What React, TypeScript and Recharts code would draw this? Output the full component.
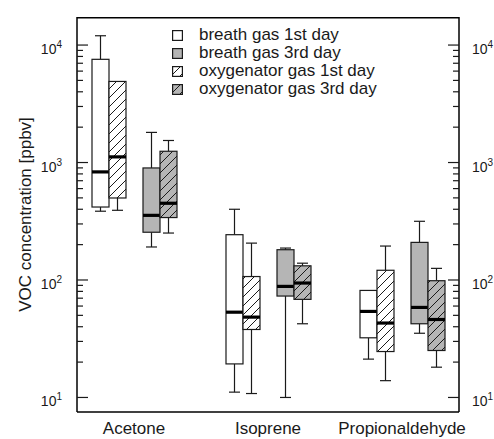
import React from 'react';
import { ComposedChart, Bar, XAxis, YAxis, Legend } from 'recharts';

const categories = ['Acetone', 'Isoprene', 'Propionaldehyde'];

// each entry: [min, q1, median, q3, max]  (ppbv)
const breath1st = [
  [385, 418, 832, 7560, 12000],
  [11.1, 19.3, 53.2, 243, 400],
  [21.2, 32.2, 54, 81.5, 81.5],
];
const breath3rd = [
  [191, 255, 355, 899, 1805],
  [10, 73, 88.2, 181, 187],
  [35.2, 42.4, 58.4, 209, 316],
];
const oxy1st = [
  [392, 499, 1117, 4900, 4900],
  [10.8, 37.9, 48.3, 107, 206],
  [13.9, 24.6, 43, 121, 194.5],
];
const oxy3rd = [
  [251, 340, 450, 1247, 1540],
  [42.4, 68.4, 94.2, 132, 139],
  [18.1, 25.1, 46.1, 98.6, 125.6],
];

const legendNames = ['breath gas 1st day', 'breath gas 3rd day', 'oxygenator gas 1st day', 'oxygenator gas 3rd day'];
const legendFills = ['#ffffff', '#b5b5b5', 'url(#hatchW)', 'url(#hatchG)'];

const majorTicks = [10, 100, 1000, 10000];
const allTicks: number[] = [];
majorTicks.forEach((m, i) => {
  allTicks.push(m);
  if (i < majorTicks.length - 1) for (let k = 2; k <= 9; k++) allTicks.push(m * k);
});

const data = categories.map((name, i) => ({
  name,
  breath1st: breath1st[i],
  oxy1st: oxy1st[i],
  breath3rd: breath3rd[i],
  oxy3rd: oxy3rd[i],
}));

const FONT = '"Liberation Sans", Arial, sans-serif';
const INK = '#1a1a1a';
const CHART_W = 494;
const CHART_H = 439;
const LEFT_W = 77;
const RIGHT_W = 35;
const PLOT_W = CHART_W - LEFT_W - RIGHT_W;

const domain = [7.52, 17330];

const makeBox = (key: string, fill: string, frame = false) => (props: any) => {
  const { x, y, width, height, payload, index } = props;
  if (!payload || !payload[key]) return <g />;
  const [mn, q1, med, q3, mx] = payload[key];
  const top = Math.min(y, y + height);
  const h = Math.abs(height);
  const lo = Math.log10(mn);
  const hi = Math.log10(mx);
  const py = (v: number) => (hi === lo ? top : top + (h * (hi - Math.log10(v))) / (hi - lo));
  const cx = x + width / 2;
  const cap = 5.5;
  // top edge of the plot frame (domain max mapped through the same log scale)
  const yTop = hi === lo ? null : py(domain[1]);
  return (
    <g>
      {frame && index === 0 && yTop !== null && (
        <line x1={LEFT_W} x2={LEFT_W + PLOT_W} y1={yTop + 0.75} y2={yTop + 0.75} stroke="#000" strokeWidth={1.5} />
      )}
      <line x1={cx} x2={cx} y1={py(mx)} y2={py(q3)} stroke={INK} strokeWidth={1.2} />
      <line x1={cx} x2={cx} y1={py(q1)} y2={py(mn)} stroke={INK} strokeWidth={1.2} />
      {mx > q3 && <line x1={cx - cap} x2={cx + cap} y1={py(mx)} y2={py(mx)} stroke={INK} strokeWidth={1.2} />}
      {mn < q1 && <line x1={cx - cap} x2={cx + cap} y1={py(mn)} y2={py(mn)} stroke={INK} strokeWidth={1.2} />}
      <rect x={x} y={py(q3)} width={width} height={py(q1) - py(q3)} fill={fill} stroke={INK} strokeWidth={1.2} />
      <line x1={x} x2={x + width} y1={py(med)} y2={py(med)} stroke="#000" strokeWidth={3.2} />
    </g>
  );
};

const LeftTick = ({ x, y, payload }: any) => {
  const v = payload.value;
  const major = majorTicks.includes(v);
  return (
    <g>
      <line x1={x} x2={x + (major ? 11 : 6)} y1={y} y2={y} stroke={INK} strokeWidth={1.2} />
      {major && (
        <text x={x - 15} y={y + 9} textAnchor="end" fontSize={14} fontFamily={FONT} fill={INK}>
          10<tspan dy={-6} fontSize={10}>{Math.round(Math.log10(v))}</tspan>
        </text>
      )}
    </g>
  );
};

const RightTick = ({ x, y, payload }: any) => {
  const v = payload.value;
  const major = majorTicks.includes(v);
  return (
    <g>
      <line x1={x} x2={x - (major ? 11 : 6)} y1={y} y2={y} stroke={INK} strokeWidth={1.2} />
      {major && (
        <text x={x + 13} y={y + 9} textAnchor="start" fontSize={14} fontFamily={FONT} fill={INK}>
          10<tspan dy={-6} fontSize={10}>{Math.round(Math.log10(v))}</tspan>
        </text>
      )}
    </g>
  );
};

const CatTick = ({ x, y, payload }: any) => (
  <text x={x} y={y + 22} textAnchor="middle" fontSize={17} fontFamily={FONT} fill={INK}>
    {payload.value}
  </text>
);

const LegendBox = () => (
  <div style={{ fontFamily: FONT, fontSize: 17, color: INK }}>
    {legendNames.map((n, i) => (
      <div key={n} style={{ display: 'flex', alignItems: 'center', height: 18 }}>
        <svg width={11} height={11} style={{ display: 'block' }}>
          <rect x={0.6} y={0.6} width={9.8} height={9.8} fill={legendFills[i]} stroke={INK} strokeWidth={1.2} />
        </svg>
        <span style={{ marginLeft: 16, lineHeight: '18px', whiteSpace: 'nowrap' }}>{n}</span>
      </div>
    ))}
  </div>
);

export default function App() {
  return (
    <div style={{ position: 'absolute', left: 0, top: 0 }}>
      <ComposedChart
        width={CHART_W}
        height={CHART_H}
        data={data}
        margin={{ top: 17, right: 0, left: 0, bottom: 0 }}
        barGap={0}
        barCategoryGap={0}
      >
        <defs>
          <pattern id="hatchW" patternUnits="userSpaceOnUse" width="9" height="9">
            <rect width="9" height="9" fill="#ffffff" />
            <path d="M-1,1 l2,-2 M0,9 l9,-9 M8,10 l2,-2" stroke={INK} strokeWidth="1" />
          </pattern>
          <pattern id="hatchG" patternUnits="userSpaceOnUse" width="9" height="9">
            <rect width="9" height="9" fill="#b5b5b5" />
            <path d="M-1,1 l2,-2 M0,9 l9,-9 M8,10 l2,-2" stroke={INK} strokeWidth="1" />
          </pattern>
        </defs>
        <XAxis
          dataKey="name"
          height={27}
          padding={{ left: -10, right: -10 }}
          tickLine={false}
          tickSize={0}
          tickMargin={0}
          tick={<CatTick />}
          axisLine={{ stroke: '#000', strokeWidth: 1.5 }}
        />
        <YAxis
          type="number"
          scale="log"
          domain={domain}
          allowDataOverflow
          ticks={allTicks}
          interval={0}
          width={LEFT_W}
          tickLine={false}
          tickSize={0}
          tickMargin={0}
          tick={<LeftTick />}
          axisLine={{ stroke: '#000', strokeWidth: 1.5 }}
          label={{
            value: 'VOC concentration [ppbv]',
            angle: -90,
            position: 'insideLeft',
            offset: 25,
            style: { textAnchor: 'middle', fontSize: 17, fontFamily: FONT, fill: INK },
          }}
        />
        <YAxis
          yAxisId="right"
          orientation="right"
          type="number"
          scale="log"
          domain={domain}
          allowDataOverflow
          ticks={allTicks}
          interval={0}
          width={RIGHT_W}
          tickLine={false}
          tickSize={0}
          tickMargin={0}
          tick={<RightTick />}
          axisLine={{ stroke: '#000', strokeWidth: 1.5 }}
        />
        <Legend
          layout="vertical"
          align="center"
          verticalAlign="middle"
          content={<LegendBox />}
          wrapperStyle={{ left: 172, top: 26, width: 260, height: 72 }}
        />
        <Bar dataKey={(d: any) => [d.breath1st[0], d.breath1st[4]]} barSize={17} isAnimationActive={false} shape={makeBox('breath1st', '#ffffff', true)} />
        <Bar dataKey={(d: any) => [d.oxy1st[0], d.oxy1st[4]]} barSize={17} isAnimationActive={false} shape={makeBox('oxy1st', 'url(#hatchW)')} />
        <Bar dataKey="spacer" barSize={17} isAnimationActive={false} />
        <Bar dataKey={(d: any) => [d.breath3rd[0], d.breath3rd[4]]} barSize={17} isAnimationActive={false} shape={makeBox('breath3rd', '#b5b5b5')} />
        <Bar dataKey={(d: any) => [d.oxy3rd[0], d.oxy3rd[4]]} barSize={17} isAnimationActive={false} shape={makeBox('oxy3rd', 'url(#hatchG)')} />
      </ComposedChart>
    </div>
  );
}
